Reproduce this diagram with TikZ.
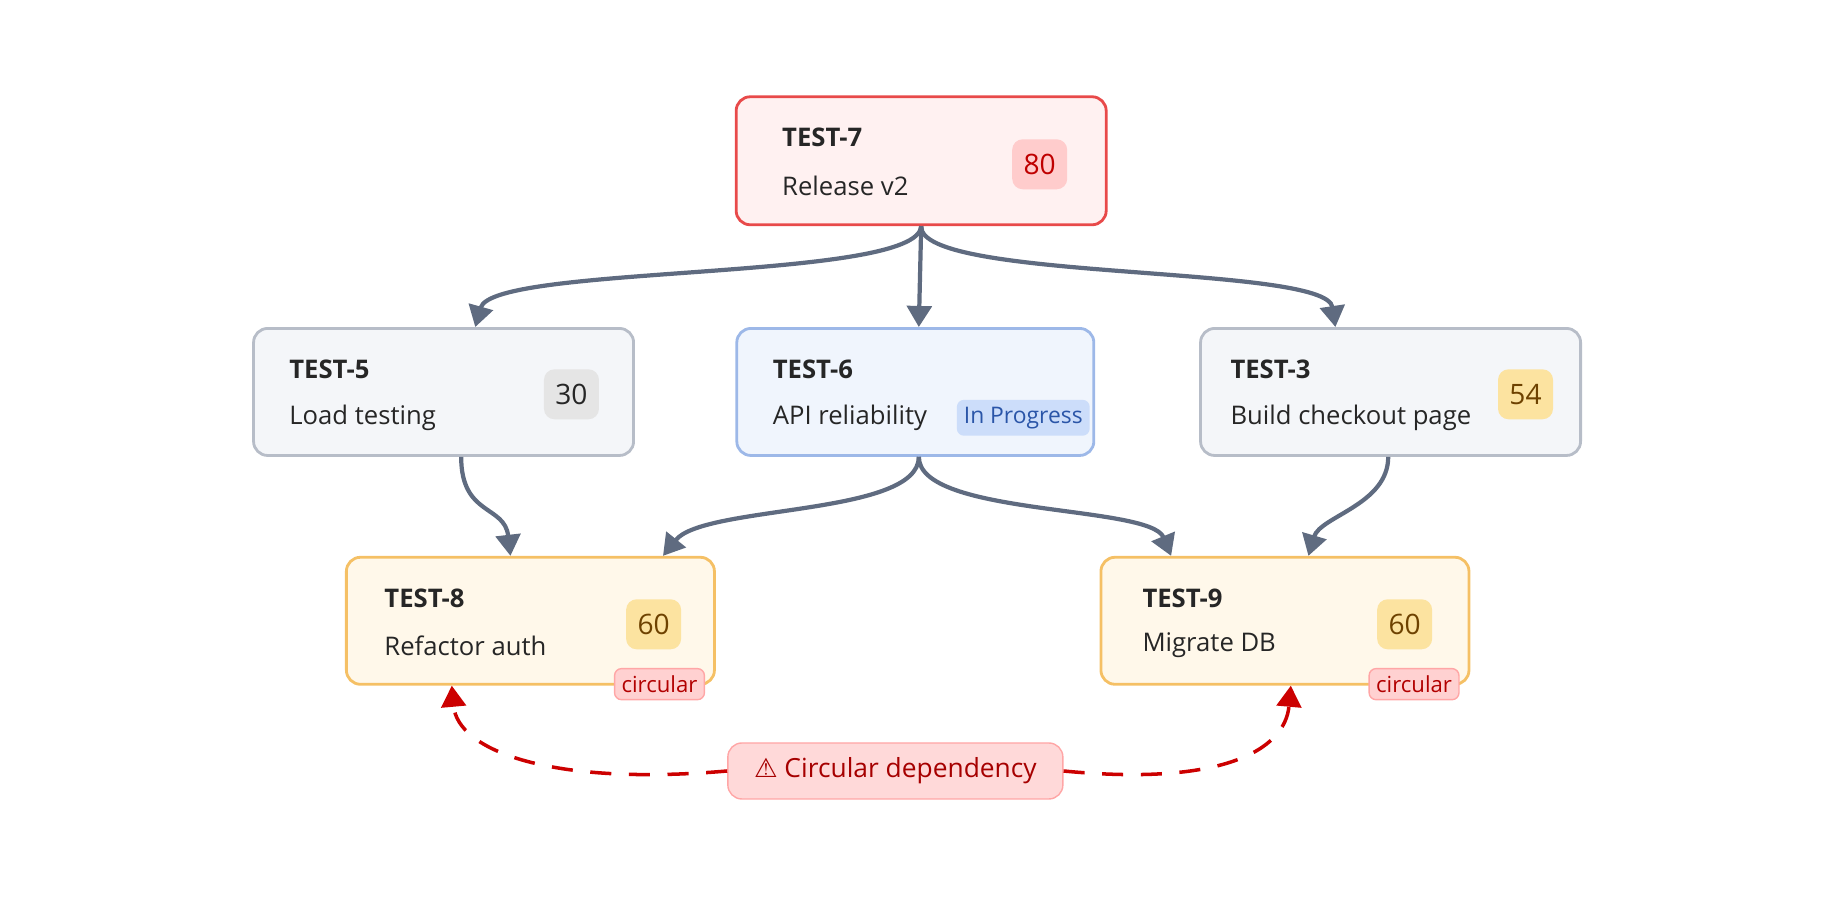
\documentclass[tikz,border=0pt]{standalone}
\usepackage{fontspec}
\setmainfont{Open Sans}
\usetikzlibrary{positioning,arrows.meta}
\definecolor{edgegray}{HTML}{5F6B80}
\definecolor{redline}{HTML}{E84A4A}
\definecolor{redfill}{HTML}{FFF1F1}
\definecolor{grayline}{HTML}{B7BDC8}
\definecolor{grayfill}{HTML}{F4F6F9}
\definecolor{blueline}{HTML}{9DB8E8}
\definecolor{bluefill}{HTML}{F0F5FD}
\definecolor{orangeline}{HTML}{F5C065}
\definecolor{orangefill}{HTML}{FFF8EA}
\definecolor{yellowbadge}{HTML}{FCE3A0}
\definecolor{yellowtext}{HTML}{6E4200}
\definecolor{bluebadge}{HTML}{CCDDFA}
\definecolor{bluetext}{HTML}{2A55A8}
\tikzset{
  card/.style={rectangle, draw, line width=0.8pt, rounded corners=4pt, minimum width=#1},
  redcard/.style={card=3.7cm, draw=redline, fill=redfill, minimum height=1.28cm},
  graycard/.style={card=3.8cm, draw=grayline, fill=grayfill, minimum height=1.27cm},
  bluecard/.style={card=3.57cm, draw=blueline, fill=bluefill, minimum height=1.27cm},
  orangecard/.style={card=3.68cm, draw=orangeline, fill=orangefill, minimum height=1.27cm},
  key/.style={anchor=west, inner sep=0pt, font=\fontsize{7.3}{9}\selectfont\bfseries, text=black!85},
  summary/.style={anchor=west, inner sep=0pt, font=\fontsize{7.3}{9}\selectfont, text=black!85},
  score/.style={rectangle, rounded corners=3pt, minimum width=0.55cm, minimum height=0.5cm, inner sep=1pt, font=\fontsize{8}{9}\selectfont},
  yscore/.style={score, fill=yellowbadge, text=yellowtext},
  tag/.style={rectangle, rounded corners=2pt, inner sep=2pt, font=\fontsize{6.3}{7}\selectfont},
  circtag/.style={tag, fill=red!18, draw=red!35, text=red!70!black},
  dep/.style={-{Triangle[width=7pt,length=6pt]}, draw=edgegray, line width=1.2pt},
  cycle/.style={-{Triangle[width=7pt,length=6pt]}, draw=red!80!black, line width=1pt, dashed, dash pattern=on 6pt off 5pt},
}
\begin{document}
\begin{tikzpicture}[x=0.011735cm, y=-0.011735cm]
    \useasboundingbox (0,0) rectangle (1568,768);
    \node (t7) [redcard] at (785,137) {};
    \node (t5) [graycard] at (378,334) {};
    \node (t6) [bluecard] at (780,334) {};
    \node (t3) [graycard] at (1185,334) {};
    \node (t8) [orangecard] at (452,529) {};
    \node (t9) [orangecard] at (1095,529) {};

    % texts of the cards
    \node [key] at (666,117) {TEST-7};
    \node [summary] at (666,158) {Release v2};
    \node [score, fill=red!20, text=red!75!black] at (886,140) {80};
    \node [key] at (246,315) {TEST-5};
    \node [summary] at (246,356) {Load testing};
    \node [score, fill=black!10, text=black!85] at (487,336) {30};
    \node [key] at (658,315) {TEST-6};
    \node [summary] at (658,356) {API reliability};
    \node [tag, fill=bluebadge, text=bluetext, font=\fontsize{6.5}{7}\selectfont] at (872,356) {In Progress};
    \node [key] at (1048,315) {TEST-3};
    \node [summary] at (1048,356) {Build checkout page};
    \node [yscore] at (1300,336) {54};
    \node [key] at (327,510) {TEST-8};
    \node [summary] at (327,550) {Refactor auth};
    \node [yscore] at (557,532) {60};
    \node [circtag] at (562,583) {circular};
    \node [key] at (973,510) {TEST-9};
    \node [summary] at (973,550) {Migrate DB};
    \node [yscore] at (1197,532) {60};
    \node [circtag] at (1205,583) {circular};

    % warning label between the two cycle arrows
    \node (warn) [rectangle, rounded corners=4pt, draw=red!35, fill=red!15, text=red!65!black, minimum width=3.35cm, minimum height=0.56cm, font=\fontsize{7.5}{9}\selectfont] at (763,657) {{\fontspec{DejaVu Sans}⚠}\ Circular dependency};

    \draw [dep] (t7.south) .. controls (783,240) and (420,225) .. (t5.north -| 405,0);
    \draw [dep] (t7.south) -- (t6.north -| 783,0);
    \draw [dep] (t7.south) .. controls (783,240) and (1130,225) .. (t3.north -| 1138,0);
    \draw [dep] (t5.south -| 393,0) .. controls (393,440) and (430,430) .. (t8.north -| 435,0);
    \draw [dep] (t6.south -| 783,0) .. controls (783,440) and (600,430) .. (t8.north -| 565,0);
    \draw [dep] (t6.south -| 783,0) .. controls (783,440) and (980,430) .. (t9.north -| 998,0);
    \draw [dep] (t3.south -| 1183,0) .. controls (1183,430) and (1125,440) .. (t9.north -| 1115,0);
    \draw [cycle] (warn.west) .. controls (470,670) and (390,640) .. (t8.south -| 385,0);
    \draw [cycle] (warn.east) .. controls (1040,670) and (1095,640) .. (t9.south -| 1100,0);
\end{tikzpicture}
\end{document}
